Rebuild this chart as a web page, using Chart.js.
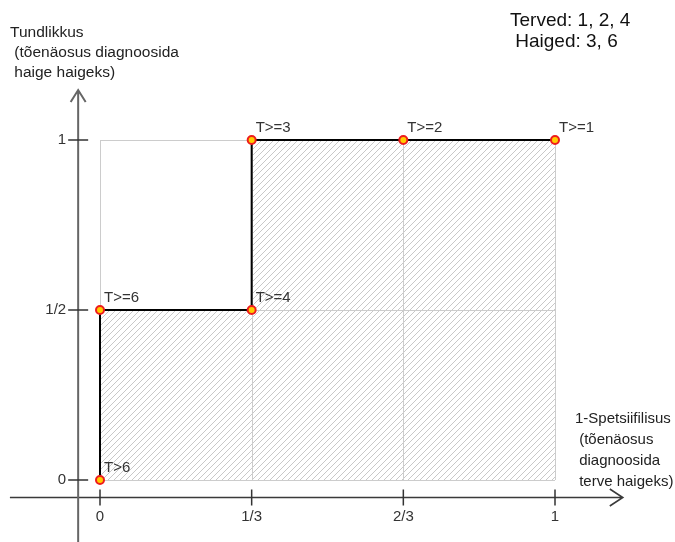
<!DOCTYPE html>
<html>
<head>
  <meta charset="utf-8">
  <title>ROC kõver</title>
  <script src="https://cdn.jsdelivr.net/npm/chart.js"></script>
  <style>
    body { margin: 0; background: #fff; }
    #wrap { width: 675px; height: 542px; }
  </style>
</head>
<body>
  <div id="wrap"><canvas id="roc"></canvas></div>

  <script>
    // ROC curve points (1-spetsiifilisus, tundlikkus) and their thresholds
    const fpr = [0, 0, 1/3, 1/3, 2/3, 1];
    const tpr = [0, 1/2, 1/2, 1, 1, 1];
    const pointLabels = ['T>6', 'T>=6', 'T>=4', 'T>=3', 'T>=2', 'T>=1'];

    const xTicks = [0, 1/3, 2/3, 1];
    const xTickLabels = ['0', '1/3', '2/3', '1'];
    const yTicks = [0, 1/2, 1];
    const yTickLabels = ['0', '1/2', '1'];

    const yTitle = ['Tundlikkus', ' (tõenäosus diagnoosida', ' haige haigeks)'];
    const xTitle = ['1-Spetsiifilisus', ' (tõenäosus', ' diagnoosida', ' terve haigeks)'];
    const legendLines = ['Terved: 1, 2, 4', ' Haiged: 3, 6'];

    const FONT = '"Liberation Sans", Arial, sans-serif';

    // diagonal hatch for area under the curve
    function makeHatch() {
      const c = document.createElement('canvas');
      c.width = 6; c.height = 6;
      const g = c.getContext('2d');
      g.strokeStyle = '#c8c8c8';
      g.lineWidth = 1;
      g.beginPath();
      g.moveTo(0, 6); g.lineTo(6, 0);
      g.moveTo(-1, 1); g.lineTo(1, -1);
      g.moveTo(5, 7); g.lineTo(7, 5);
      g.stroke();
      return g.createPattern(c, 'repeat');
    }

    const gridPlugin = {
      id: 'rocGrid',
      beforeDatasetsDraw(chart) {
        const { ctx, scales: { x, y } } = chart;
        ctx.save();
        ctx.strokeStyle = '#cccccc';
        ctx.lineWidth = 1;
        ctx.beginPath();
        xTicks.forEach(v => {
          const px = Math.round(x.getPixelForValue(v)) + 0.5;
          ctx.moveTo(px, y.getPixelForValue(0));
          ctx.lineTo(px, y.getPixelForValue(1));
        });
        yTicks.forEach(v => {
          const py = Math.round(y.getPixelForValue(v)) + 0.5;
          ctx.moveTo(x.getPixelForValue(0), py);
          ctx.lineTo(x.getPixelForValue(1), py);
        });
        ctx.stroke();
        ctx.restore();
      }
    };

    const axesPlugin = {
      id: 'rocAxes',
      afterDraw(chart) {
        const { ctx, scales: { x, y } } = chart;
        const ax = x.getPixelForValue(-0.048);   // vertical axis
        const ay = y.getPixelForValue(-0.0515);  // horizontal axis
        ctx.save();

        // horizontal axis with open arrow
        const hx0 = x.getPixelForValue(-0.198), hx1 = x.getPixelForValue(1.149);
        ctx.strokeStyle = '#3a3a3a';
        ctx.lineWidth = 1.6;
        ctx.beginPath();
        ctx.moveTo(hx0, ay); ctx.lineTo(hx1, ay);
        ctx.moveTo(hx1 - 13, ay - 8.5); ctx.lineTo(hx1, ay); ctx.lineTo(hx1 - 13, ay + 8.5);
        ctx.stroke();

        // vertical axis with open arrow
        const vy0 = y.getPixelForValue(-0.19), vy1 = y.getPixelForValue(1.147);
        ctx.strokeStyle = '#666666';
        ctx.lineWidth = 2;
        ctx.beginPath();
        ctx.moveTo(ax, vy0); ctx.lineTo(ax, vy1);
        ctx.moveTo(ax - 7.5, vy1 + 12); ctx.lineTo(ax, vy1); ctx.lineTo(ax + 7.5, vy1 + 12);
        ctx.stroke();

        // ticks
        ctx.strokeStyle = '#333';
        ctx.lineWidth = 1.5;
        ctx.beginPath();
        xTicks.forEach(v => {
          const px = x.getPixelForValue(v);
          ctx.moveTo(px, ay - 8); ctx.lineTo(px, ay + 8);
        });
        yTicks.forEach(v => {
          const py = y.getPixelForValue(v);
          ctx.moveTo(ax - 10, py); ctx.lineTo(ax + 10, py);
        });
        ctx.stroke();

        // tick labels
        ctx.fillStyle = '#333';
        ctx.font = '15px ' + FONT;
        ctx.textAlign = 'center';
        ctx.textBaseline = 'middle';
        xTicks.forEach((v, i) => ctx.fillText(xTickLabels[i], x.getPixelForValue(v), ay + 19));
        ctx.textAlign = 'right';
        yTicks.forEach((v, i) => ctx.fillText(yTickLabels[i], ax - 12, y.getPixelForValue(v)));

        // axis titles
        ctx.textAlign = 'left';
        ctx.fillStyle = '#222';
        ctx.font = '15.5px ' + FONT;
        yTitle.forEach((t, i) => ctx.fillText(t, 10, 33 + i * 20));
        ctx.font = '15px ' + FONT;
        xTitle.forEach((t, i) => ctx.fillText(t, 575, 419 + i * 21));

        // point labels
        ctx.fillStyle = '#333';
        const meta = chart.getDatasetMeta(0);
        meta.data.forEach((pt, i) => ctx.fillText(pointLabels[i], pt.x + 4, pt.y - 12));

        // top-right note
        ctx.fillStyle = '#111';
        ctx.font = '19px ' + FONT;
        legendLines.forEach((t, i) => ctx.fillText(t, 510, 21 + i * 21));

        ctx.restore();
      }
    };

    const ctx = document.getElementById('roc').getContext('2d');
    const rocChart = new Chart(ctx, {
      type: 'scatter',
      data: {
        datasets: [{
          label: 'ROC',
          data: fpr.map((v, i) => ({ x: v, y: tpr[i] })),
          showLine: true,
          borderColor: '#000',
          borderWidth: 2,
          fill: { target: { value: 0 } },
          backgroundColor: makeHatch(),
          pointRadius: 4,
          pointBorderWidth: 2,
          pointBackgroundColor: '#ffcc00',
          pointBorderColor: '#ee1c1c',
          tension: 0
        }]
      },
      options: {
        responsive: true,
        maintainAspectRatio: false,
        animation: false,
        layout: { padding: 0, autoPadding: false },
        scales: {
          x: { type: 'linear', display: false, min: -100 / 455, max: 575 / 455 },
          y: { type: 'linear', display: false, min: -62 / 340, max: 480 / 340 }
        },
        plugins: {
          legend: { display: false },
          tooltip: { enabled: false },
          filler: { drawTime: 'beforeDatasetsDraw' }
        }
      },
      plugins: [gridPlugin, axesPlugin]
    });
  </script>
</body>
</html>
